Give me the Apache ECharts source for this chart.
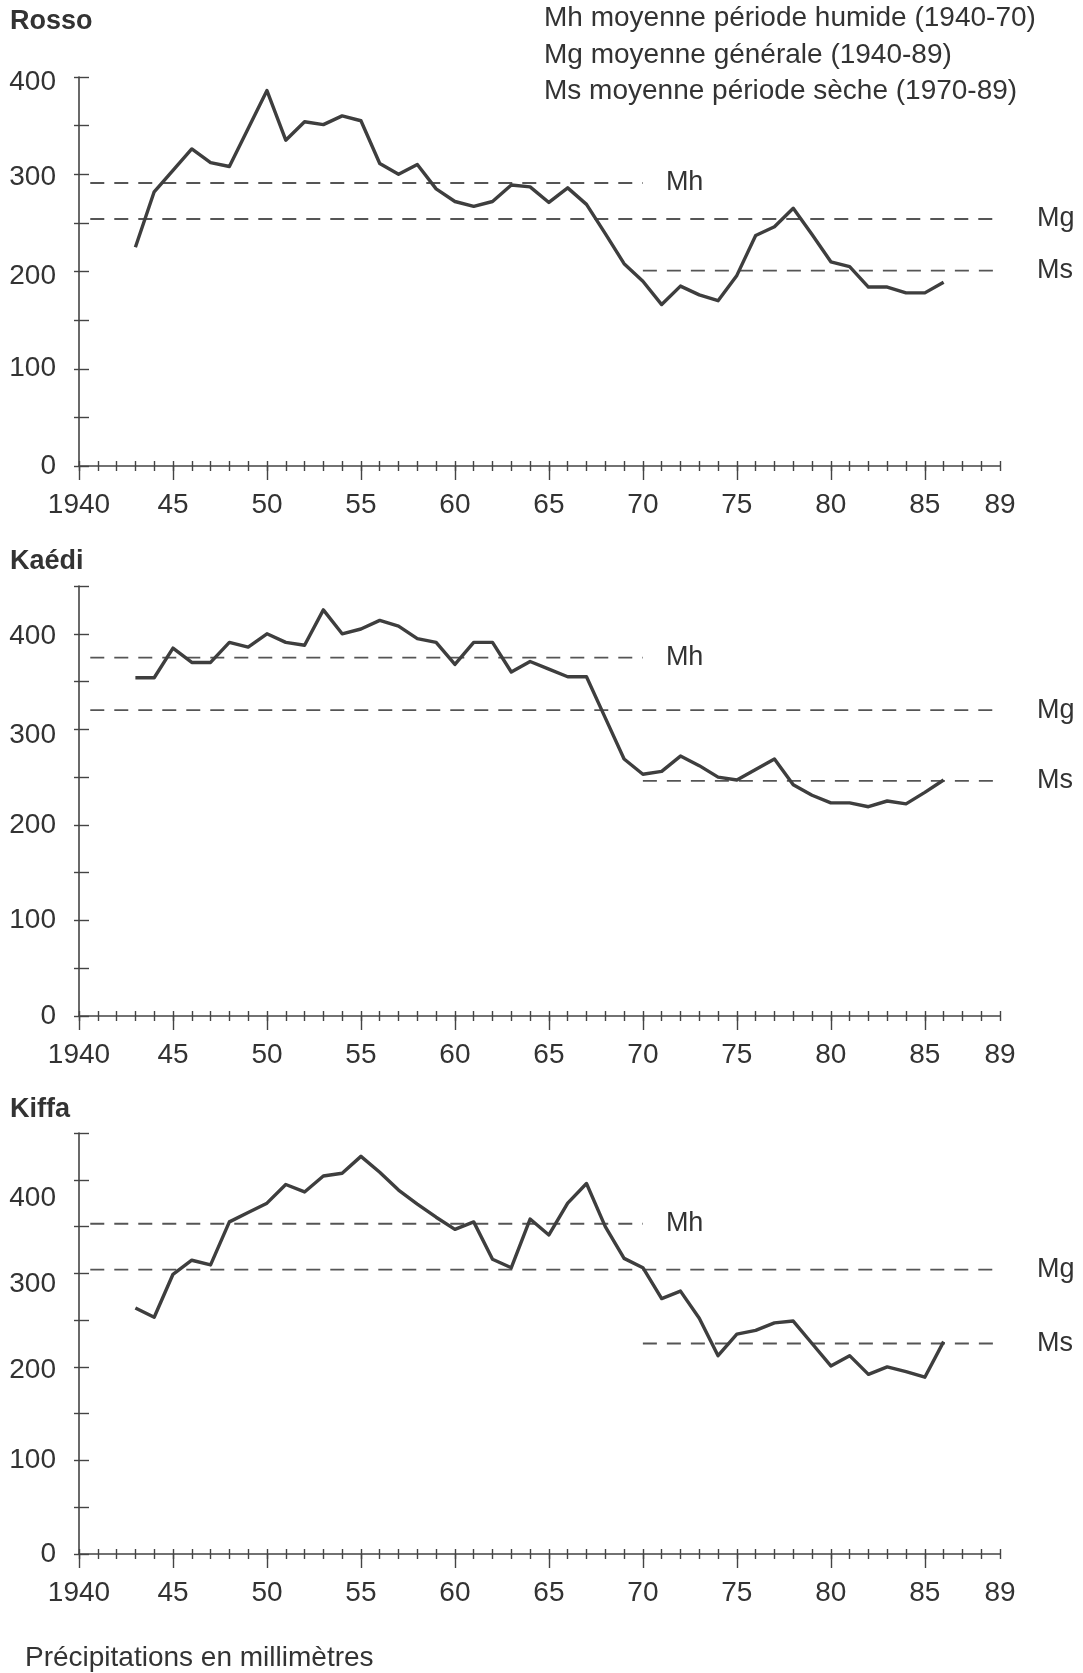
<!DOCTYPE html>
<html><head><meta charset="utf-8">
<script src="https://cdn.jsdelivr.net/npm/echarts@6/dist/echarts.min.js"></script>
<style>html,body{margin:0;padding:0;background:#fff}#c{width:1083px;height:1673px}</style>
</head><body><div id="c"></div>
<script>
// ---------------- data ----------------
const years = [1943,1944,1945,1946,1947,1948,1949,1950,1951,1952,1953,1954,1955,1956,1957,1958,1959,1960,1961,1962,1963,1964,1965,1966,1967,1968,1969,1970,1971,1972,1973,1974,1975,1976,1977,1978,1979,1980,1981,1982,1983,1984,1985,1986];
const stations = ['Rosso','Kaédi','Kiffa'];
const rossoValues = [225,282,304,326,312,308,347,386,335,354,351,360,355,311,300,310,285,272,267,272,289,287,271,286,269,239,208,190,166,185,176,170,196,237,246,265,238,210,205,184,184,178,178,189];
const kaediValues = [354,354,385,370,370,391,386,400,391,388,425,400,405,414,408,395,391,368,391,391,360,371,363,355,355,312,269,253,256,272,262,250,247,258,269,242,231,223,223,219,225,222,234,247];
const kiffaValues = [263,253,299,314,309,355,365,375,395,387,404,407,425,408,389,374,360,347,355,315,306,358,341,375,396,350,316,306,273,281,252,212,235,239,247,249,225,201,212,192,200,195,189,227];
const meanNames = ['Mh','Mg','Ms'];
const rossoMeans = [291,254,201];
const kaediMeans = [375,320,246];
const kiffaMeans = [353,304,225];
const meanPeriods = [[1940.6,1970],[1940.6,1989],[1970,1989]];
const xLabelValues = [1940,1945,1950,1955,1960,1965,1970,1975,1980,1985,1989];
const xLabelTexts = ['1940','45','50','55','60','65','70','75','80','85','89'];
const xMajorTicks = [1940,1945,1950,1955,1960,1965,1970,1975,1980,1985];
const yLabelValues = [0,100,200,300,400];
const yMaxes = [400,450,450];
const legendLines = ['Mh moyenne période humide (1940-70)','Mg moyenne générale (1940-89)','Ms moyenne période sèche (1970-89)'];
const footnote = 'Précipitations en millimètres';

// ---------------- layout ----------------
const FONT = '"Liberation Sans", Arial, Helvetica, sans-serif';
const TXT = '#333';
const AX = '#444';
const FS = 28;
const panels = [
  {top: 77, height: 389, titleY: 22},
  {top: 586, height: 430, titleY: 562},
  {top: 1133, height: 421, titleY: 1110}
];
// hand-lettered label drop below tick (px), per panel, for 0..400
const labelDrop = [[0,0,5,3,5],[0,0,0,6,3],[0,0,3,11,19]];
const GL = 79, GW = 921;
const valuesByPanel = [rossoValues, kaediValues, kiffaValues];
const meansByPanel = [rossoMeans, kaediMeans, kiffaMeans];
const labelGap = [23, 37, 37];

const grid = [], xAxis = [], yAxis = [], series = [], graphic = [];
panels.forEach((p, i) => {
  for (let k = 0; k < 3; k++) grid.push({left: GL, width: GW, top: p.top, height: p.height, containLabel: false});
  const g = i * 3;
  const rich = {};
  labelDrop[i].forEach((d, j) => { rich['d' + j] = {fontSize: FS, color: TXT, fontFamily: FONT, padding: [2 * d, 0, 0, 0]}; });
  xAxis.push({
    type: 'value', gridIndex: g, min: 1940, max: 1989, interval: 1,
    axisLine: {show: true, lineStyle: {color: AX, width: 1.6}},
    axisTick: {show: true, inside: true, length: 5, lineStyle: {color: AX, width: 1.4}},
    axisLabel: {show: true, customValues: xLabelValues, margin: 25, fontSize: FS, color: TXT, fontFamily: FONT,
      formatter: v => { const j = xLabelValues.indexOf(Math.round(v)); return j >= 0 ? xLabelTexts[j] : ''; }},
    splitLine: {show: false}
  });
  yAxis.push({
    type: 'value', gridIndex: g, min: 0, max: yMaxes[i], interval: 50,
    axisLine: {show: true, lineStyle: {color: AX, width: 1.6}},
    axisTick: {show: true, inside: true, length: 10, lineStyle: {color: AX, width: 1.4}},
    axisLabel: {show: true, margin: 23, fontSize: FS, color: TXT, fontFamily: FONT, rich: rich,
      formatter: v => { const j = yLabelValues.indexOf(v); return j >= 0 ? '{d' + j + '|' + v + '}' : ''; }},
    splitLine: {show: false}
  });
  xAxis.push({
    type: 'value', gridIndex: g + 1, min: 1940, max: 1989, interval: 1,
    axisLine: {show: false}, axisLabel: {show: false}, splitLine: {show: false},
    axisTick: {show: true, inside: false, length: 5, lineStyle: {color: AX, width: 1.4}}
  });
  yAxis.push({
    type: 'value', gridIndex: g + 1, min: 0, max: yMaxes[i], interval: 50,
    axisLine: {show: false}, axisLabel: {show: false}, splitLine: {show: false},
    axisTick: {show: true, inside: false, length: 5, lineStyle: {color: AX, width: 1.4}}
  });
  xAxis.push({
    type: 'value', gridIndex: g + 2, min: 1940, max: 1989,
    axisLine: {show: false}, axisLabel: {show: false}, splitLine: {show: false},
    axisTick: {show: true, inside: false, length: 14, customValues: xMajorTicks, lineStyle: {color: AX, width: 1.4}}
  });
  yAxis.push({type: 'value', gridIndex: g + 2, min: 0, max: yMaxes[i], show: false});

  series.push({
    type: 'line', xAxisIndex: g, yAxisIndex: g, symbol: 'none', animation: false,
    data: years.map((y, j) => [y, valuesByPanel[i][j]]),
    lineStyle: {color: '#3e3e3e', width: 3.4, join: 'round'}, z: 5
  });
  meanNames.forEach((name, m) => {
    const v = meansByPanel[i][m];
    series.push({
      type: 'line', name: name, xAxisIndex: g, yAxisIndex: g, symbol: 'none', animation: false,
      data: [[meanPeriods[m][0], v], [meanPeriods[m][1], v]],
      lineStyle: {color: '#555', width: 1.8, type: [14, 10]}, z: 3,
      endLabel: {show: true, formatter: name, distance: labelGap[m], fontSize: 27, color: TXT, fontFamily: FONT}
    });
  });
  graphic.push({type: 'text', x: 10, y: p.titleY,
    style: {text: stations[i], fontSize: 27, fontWeight: 'bold', fill: TXT, fontFamily: FONT, verticalAlign: 'middle'}});
});

[18, 55, 91].forEach((y, j) => {
  graphic.push({type: 'text', x: 544, y: y,
    style: {text: legendLines[j], fontSize: FS, fill: TXT, fontFamily: FONT, verticalAlign: 'middle'}});
});
graphic.push({type: 'text', x: 25, y: 1658,
  style: {text: footnote, fontSize: FS, fill: TXT, fontFamily: FONT, verticalAlign: 'middle'}});

const chart = echarts.init(document.getElementById('c'), null, {renderer: 'canvas'});
chart.setOption({backgroundColor: '#fff', animation: false, grid, xAxis, yAxis, series, graphic});
</script>
</body></html>
